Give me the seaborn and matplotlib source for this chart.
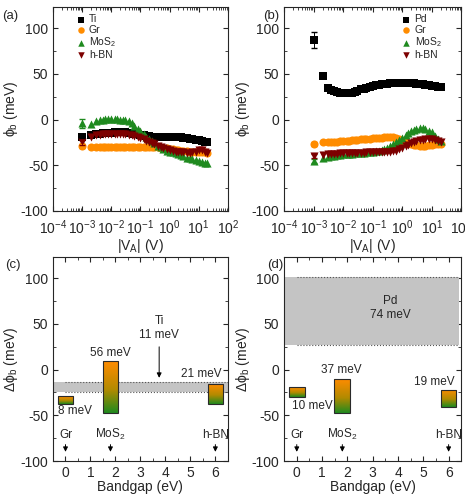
import numpy as np
import matplotlib
matplotlib.use('Agg')
import matplotlib.pyplot as plt
from matplotlib.colors import LinearSegmentedColormap
from matplotlib.ticker import AutoMinorLocator, LogLocator, NullFormatter, MultipleLocator
import seaborn as sns

va = [1e-3, 2e-3, 3e-3, 4e-3, 5e-3, 6e-3, 8e-3, 1e-2, 1.3e-2, 1.6e-2, 2e-2, 2.5e-2,
      3e-2, 4e-2, 5e-2, 6e-2, 8e-2, 0.1, 0.13, 0.16, 0.2, 0.25, 0.3, 0.4, 0.5, 0.6,
      0.8, 1, 1.3, 1.6, 2, 2.5, 3, 4, 5, 6, 8, 10, 13, 16, 20]

# (a) Ti contacts
ti_a = [-18.5, -17, -16, -15.5, -15, -15, -14.5, -14.5, -14, -14, -14, -14,
        -14, -14.5, -15, -15.5, -16, -16.5, -17, -17.5, -18, -18.5, -18.5, -19, -19, -19,
        -19, -19, -19, -19, -19.5, -19.5, -20, -20.5, -21, -21.5, -22, -22.5, -23.5, -24, -25]
gr_a = [-29, -29.5, -30, -30, -30, -30, -30, -30, -30, -30, -30, -30,
        -30, -30, -30, -30, -30, -30, -30, -30, -30, -30, -30, -30.5, -31, -31,
        -31.5, -32, -32.5, -33, -33.5, -34, -34, -34.5, -35, -35, -35.5, -35.5, -36, -36, -36.5]
mos2_a = [-4, -5, -1, 0, 0, 0.5, 0.5, 0.5, 0.5, 0.5, 0, 0,
          -0.5, -2, -4, -7, -10, -13, -16, -18.5, -21, -23.5, -25.5, -28.5, -30.5, -32,
          -34, -35, -36, -37, -38, -39, -40, -41.5, -42.5, -43, -44.5, -45.5, -46.5, -47.5, -48]
hbn_a = [-25, -19, -17, -16.5, -16, -16, -16, -16, -16, -16, -16, -16,
         -16, -16.5, -17, -17.5, -18.5, -20, -21.5, -23, -24.5, -25.5, -26.5, -28.5, -30, -31,
         -32.5, -33, -34, -35, -35.5, -36, -36, -36.5, -36.5, -36, -35, -33.5, -33, -35, -37]
err_a = [2, 2, 5, 3]

# (b) Pd contacts
pd_b = [87, 48, 35, 32.5, 31, 30.5, 29.5, 29, 29, 29, 29.5, 30,
        31, 33, 34, 35, 36, 36.5, 37.5, 38, 38.5, 39, 39.5, 40, 40, 40.5,
        40.5, 40.5, 40.5, 40.5, 40, 40, 39.5, 39, 38.5, 38, 37.5, 37, 36.5, 36, 35.5]
gr_b = [-26.5, -25, -24.5, -24.5, -24, -24, -23.5, -23.5, -23, -23, -22.5, -22.5,
        -22, -21.5, -21.5, -21, -21, -20.5, -20.5, -20, -20, -19.5, -19.5, -19.5, -19.5, -20,
        -21.5, -23, -24.5, -26, -27, -27.5, -28, -28.5, -28.5, -28.5, -28, -27.5, -27, -27, -27]
mos2_b = [-45.5, -42, -40.5, -40, -39.5, -39, -38.5, -38, -38, -37.5, -37.5, -37,
          -37, -36.5, -36.5, -36, -35.5, -35, -34.5, -34, -33, -32, -31, -29, -27, -25,
          -22.5, -20, -17, -15, -13, -11, -10, -9, -9, -10, -12, -14, -18, -21, -23]
hbn_b = [-39.5, -38.5, -38, -37.5, -37.5, -37.5, -37, -37, -37, -37, -37, -36.5,
         -36.5, -36.5, -36.5, -36, -36, -36, -36, -36, -35.5, -35.5, -35.5, -35, -34.5, -34,
         -32.5, -31, -29, -27.5, -26, -24.5, -23.5, -22.5, -22, -21.5, -21, -21.5, -22, -23.5, -24.5]
err_b = [9, 2, 2, 2]

# (c), (d) spread of phi_b vs bandgap of the interlayer
gap = [0, 1.8, 6]
gap_names = ['Gr', 'MoS$_2$', 'h-BN']
c_top = [-29, 9, -16]
c_bot = [-37.5, -47, -37.5]
c_text = ['8 meV', '56 meV', '21 meV']
d_top = [-19, -10, -22]
d_bot = [-29.5, -47, -41]
d_text = ['10 meV', '37 meV', '19 meV']
ti_band = [-25, -14]
pd_band = [27, 101]

sns.set_style('ticks')
plt.rcParams['font.family'] = ['Liberation Sans', 'DejaVu Sans']
plt.rcParams['mathtext.fontset'] = 'custom'
plt.rcParams['mathtext.rm'] = 'Liberation Sans'
plt.rcParams['mathtext.it'] = 'Liberation Sans:italic'
plt.rcParams['axes.unicode_minus'] = False

colors = ['#000000', '#ff8c00', '#1f8a1f', '#7d0000']
markers = ['s', 'o', '^', 'v']

fig = plt.figure(figsize=(4.65, 4.97), dpi=100)
ax_a = fig.add_axes([0.114, 0.5755, 0.376, 0.41])
ax_b = fig.add_axes([0.611, 0.5755, 0.381, 0.41])
ax_c = fig.add_axes([0.114, 0.0724, 0.376, 0.41])
ax_d = fig.add_axes([0.611, 0.0724, 0.381, 0.41])


def style(ax):
    ax.tick_params(direction='in', which='both', top=True, right=True, labelsize=10)
    ax.tick_params(which='major', length=3.5, width=0.8)
    ax.tick_params(which='minor', length=2, width=0.6)
    ax.tick_params(axis='x', pad=5)
    for s in ax.spines.values():
        s.set_linewidth(0.8)
    ax.set_ylim(-100, 123)
    ax.yaxis.set_major_locator(MultipleLocator(50))
    ax.yaxis.set_minor_locator(AutoMinorLocator(2))


def curves(ax, series, names, errs, legend_kw):
    for y, name, col, mk, e in zip(series, names, colors, markers, errs):
        sns.scatterplot(x=va, y=y, ax=ax, color=col, marker=mk, s=34, linewidth=0,
                        label=name)
        ax.errorbar(va[0], y[0], yerr=e, fmt='none', ecolor=col, elinewidth=0.7, capsize=2)
    ax.set_xscale('log')
    ax.set_xlim(1e-4, 1e2)
    ax.xaxis.set_major_locator(LogLocator(base=10, numticks=10))
    ax.xaxis.set_minor_locator(LogLocator(base=10, subs=np.arange(2, 10), numticks=10))
    ax.xaxis.set_minor_formatter(NullFormatter())
    style(ax)
    ax.set_xlabel('|V$_\\mathrm{A}$| (V)', fontsize=10, labelpad=0)
    ax.set_ylabel('ϕ$_\\mathrm{b}$ (meV)', fontsize=10, labelpad=0)
    ax.legend(frameon=False, fontsize=7.5, handletextpad=0.2, labelspacing=0.05,
              borderaxespad=0.3, handlelength=1.2, markerscale=0.8, **legend_kw)


curves(ax_a, [ti_a, gr_a, mos2_a, hbn_a], ['Ti', 'Gr', 'MoS$_2$', 'h-BN'], err_a,
       dict(loc='upper left', bbox_to_anchor=(0.08, 1.0)))
curves(ax_b, [pd_b, gr_b, mos2_b, hbn_b], ['Pd', 'Gr', 'MoS$_2$', 'h-BN'], err_b,
       dict(loc='upper right', bbox_to_anchor=(0.93, 1.0)))

grad_cmap = LinearSegmentedColormap.from_list(
    'og', [(0.0, '#1f8a1f'), (0.45, '#b28a00'), (1.0, '#ff8c00')])
grad = np.linspace(0, 1, 256).reshape(-1, 1)


def gap_panel(ax, top, bot, texts, text_pos, band, band_x, band_text, band_pos):
    ax.fill_between(band_x, band[0], band[1], color='#c4c4c4', lw=0, zorder=1)
    for yv in band:
        ax.plot([0, band_x[1]], [yv, yv], ls=':', color='#555555', lw=0.8, zorder=1.5)
    heights = [t - b for t, b in zip(top, bot)]
    bars = ax.bar(gap, heights, bottom=bot, width=0.62, facecolor='none',
                  edgecolor='#2a2a2a', linewidth=0.8, zorder=3)
    for p, g, t, b in zip(bars.patches, gap, top, bot):
        im = ax.imshow(grad, cmap=grad_cmap, origin='lower', aspect='auto',
                       extent=(g - 0.31, g + 0.31, b, t), zorder=2)
        im.set_clip_path(p)
    for txt, (tx, ty) in zip(texts, text_pos):
        ax.text(tx, ty, txt, ha='center', va='center', fontsize=8.5)
    for g, nm in zip(gap, gap_names):
        ax.text(g, -71, nm, ha='center', va='center', fontsize=8.5)
        ax.annotate('', xy=(g, -93), xytext=(g, -79),
                    arrowprops=dict(arrowstyle='-|>', color='k', lw=0.7, mutation_scale=7))
    for txt, (tx, ty) in zip(band_text, band_pos):
        ax.text(tx, ty, txt, ha='center', va='center', fontsize=8.5)
    ax.set_xlim(-0.5, 6.5)
    ax.xaxis.set_major_locator(MultipleLocator(1))
    ax.xaxis.set_minor_locator(AutoMinorLocator(2))
    style(ax)
    ax.tick_params(axis='x', pad=3.5)
    ax.set_xlabel('Bandgap (eV)', fontsize=10, labelpad=0)
    ax.set_ylabel('Δϕ$_\\mathrm{b}$ (meV)', fontsize=10, labelpad=0)


gap_panel(ax_c, c_top, c_bot, c_text, [(0.4, -45), (1.8, 18), (5.45, -4.5)],
          ti_band, [-0.5, 6.5], ['Ti', '11 meV'], [(3.75, 53), (3.75, 38)])
ax_c.annotate('', xy=(3.75, -12), xytext=(3.75, 28),
              arrowprops=dict(arrowstyle='-|>', color='k', lw=0.7, mutation_scale=7))
gap_panel(ax_d, d_top, d_bot, d_text, [(0.6, -40), (1.75, 0), (5.45, -13)],
          pd_band, [-0.5, 6.4], ['Pd', '74 meV'], [(3.7, 75), (3.7, 60)])

for lbl, x, y in [('(a)', 0.005, 0.968), ('(b)', 0.565, 0.968),
                  ('(c)', 0.01, 0.467), ('(d)', 0.575, 0.467)]:
    fig.text(x, y, lbl, fontsize=9.5, ha='left', va='center')

fig.savefig('out.png', dpi=100)
